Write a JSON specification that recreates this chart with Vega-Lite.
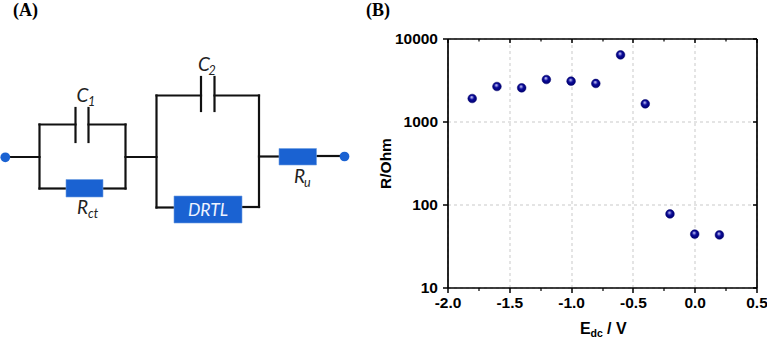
{
"$schema":"https://vega.github.io/schema/vega-lite/v6.json",
"width":309,"height":249,
"autosize":"none",
"padding":{"left":447.5,"top":38.5,"right":10.5,"bottom":50.5},
"background":"white",
"config":{"view":{"stroke":null}},
"datasets":{
"points":[{"E":-1.8,"R":1893},{"E":-1.6,"R":2640},{"E":-1.4,"R":2545},{"E":-1.2,"R":3206},{"E":-1.0,"R":3060},{"E":-0.8,"R":2872},{"E":-0.6,"R":6350},{"E":-0.4,"R":1633},{"E":-0.2,"R":77},{"E":0.0,"R":44},{"E":0.2,"R":43}],
"wires":[
{"a":5,"b":39.5,"c":157,"d":157},{"a":39.5,"b":39.5,"c":124.5,"d":188.5},{"a":39.5,"b":75.5,"c":124.5,"d":124.5},{"a":88.5,"b":125.5,"c":124.5,"d":124.5},{"a":125.5,"b":125.5,"c":124.5,"d":188.5},{"a":39.5,"b":66,"c":188.5,"d":188.5},{"a":103,"b":125.5,"c":188.5,"d":188.5},{"a":75.5,"b":75.5,"c":108,"d":142},{"a":88.5,"b":88.5,"c":108,"d":142},
{"a":125.5,"b":156.5,"c":157,"d":157},{"a":156.5,"b":156.5,"c":95.5,"d":207.5},{"a":156.5,"b":201,"c":95.5,"d":95.5},{"a":214.5,"b":259,"c":95.5,"d":95.5},{"a":201,"b":201,"c":77,"d":111},{"a":214.5,"b":214.5,"c":77,"d":111},{"a":259,"b":259,"c":95.5,"d":207},{"a":156.5,"b":174,"c":207.5,"d":207.5},{"a":242,"b":259,"c":207,"d":207},{"a":259,"b":279,"c":156.5,"d":156.5},{"a":316.5,"b":344,"c":156,"d":156}],
"boxes":[{"name":"Rct","a":66,"b":103,"c":179.5,"d":197},{"name":"DRTL","a":174,"b":242,"c":196,"d":223},{"name":"Ru","a":279,"b":316.5,"c":148.5,"d":165}],
"terminals":[{"a":5.3,"c":157.3},{"a":344.5,"c":156.5}]
},
"resolve":{"scale":{"x":"independent","y":"independent"},"axis":{"x":"independent","y":"independent"}},
"layer":[
{"data":{"name":"points"},"mark":{"type":"point","opacity":0},
 "encoding":{
 "x":{"field":"E","type":"quantitative","scale":{"domain":[-2,0.5],"nice":false,"zero":false},
  "axis":{"orient":"bottom","values":[-2,-1.5,-1,-0.5,0,0.5],"labelExpr":"replace(format(datum.value,'.1f'),'−','-')","title":null,"grid":true,"gridColor":"#c9c9c9","gridDash":[3,3],"gridWidth":1,"domainColor":"#000","domainWidth":1.7,"tickColor":"#000","tickWidth":1.5,"tickSize":5,"labelFont":"Liberation Sans","labelFontWeight":"bold","labelFontSize":15.5,"labelColor":"#000","labelPadding":3,"labelOverlap":false,"labelFlush":false}},
 "y":{"field":"R","type":"quantitative","scale":{"type":"log","domain":[10,10000],"nice":false,"zero":false},
  "axis":{"orient":"left","values":[10,100,1000,10000],"format":"d","title":"R/Ohm","titleFont":"Liberation Sans","titleFontWeight":"bold","titleFontSize":15.5,"titleColor":"#000","titlePadding":1,"grid":true,"gridColor":"#c9c9c9","gridDash":[3,3],"gridWidth":1,"domainColor":"#000","domainWidth":1.7,"tickColor":"#000","tickWidth":1.5,"tickSize":5,"labelFont":"Liberation Sans","labelFontWeight":"bold","labelFontSize":15.5,"labelColor":"#000","labelPadding":5,"labelOverlap":false}}}},
{"data":{"name":"points"},"mark":{"type":"point","opacity":0},
 "encoding":{
 "x":{"field":"E","type":"quantitative","scale":{"domain":[-2,0.5],"nice":false,"zero":false},
  "axis":{"orient":"top","values":[-2,-1.5,-1,-0.5,0,0.5],"labels":false,"title":null,"grid":false,"domainColor":"#000","domainWidth":1.7,"tickColor":"#000","tickWidth":1.5,"tickSize":-4}},
 "y":{"field":"R","type":"quantitative","scale":{"type":"log","domain":[10,10000],"nice":false,"zero":false},
  "axis":{"orient":"right","values":[10,100,1000,10000],"labels":false,"title":null,"grid":false,"domainColor":"#000","domainWidth":1.7,"tickColor":"#000","tickWidth":1.5,"tickSize":-4}}}},
{"data":{"name":"points"},"mark":{"type":"point","opacity":0},
 "encoding":{
 "x":{"field":"E","type":"quantitative","scale":{"domain":[-2,0.5],"nice":false,"zero":false},
  "axis":{"orient":"bottom","values":[-1.75,-1.25,-0.75,-0.25,0.25],"labels":false,"title":null,"grid":false,"domain":false,"tickColor":"#000","tickWidth":1.2,"tickSize":3}},
 "y":{"field":"R","type":"quantitative","scale":{"type":"log","domain":[10,10000],"nice":false,"zero":false},"axis":null}}},
{"data":{"name":"points"},"mark":{"type":"point","opacity":0},
 "encoding":{
 "x":{"field":"E","type":"quantitative","scale":{"domain":[-2,0.5],"nice":false,"zero":false},
  "axis":{"orient":"top","values":[-1.75,-1.25,-0.75,-0.25,0.25],"labels":false,"title":null,"grid":false,"domain":false,"tickColor":"#000","tickWidth":1.2,"tickSize":-2.5}},
 "y":{"field":"R","type":"quantitative","scale":{"type":"log","domain":[10,10000],"nice":false,"zero":false},"axis":null}}},
{"data":{"name":"points"},
 "mark":{"type":"point","filled":true,"size":76,"opacity":1,"stroke":"#00006e","strokeWidth":0.5,
  "fill":{"gradient":"radial","x1":0.42,"y1":0.32,"r1":0,"x2":0.5,"y2":0.5,"r2":0.55,"stops":[{"offset":0,"color":"#e8e8ff"},{"offset":0.22,"color":"#7f7fd8"},{"offset":0.45,"color":"#0a0a9a"},{"offset":1,"color":"#00006a"}]}},
 "encoding":{
 "x":{"field":"E","type":"quantitative","scale":{"domain":[-2,0.5],"nice":false,"zero":false},"axis":null},
 "y":{"field":"R","type":"quantitative","scale":{"type":"log","domain":[10,10000],"nice":false,"zero":false},"axis":null}}},
{"data":{"name":"wires"},"mark":{"type":"rule","color":"#111111","strokeWidth":2.2,"strokeCap":"square"},
 "encoding":{
 "x":{"field":"a","type":"quantitative","scale":{"domain":[447.5,756.5],"nice":false,"zero":false},"axis":null},
 "x2":{"field":"b"},
 "y":{"field":"c","type":"quantitative","scale":{"domain":[287.5,38.5],"nice":false,"zero":false},"axis":null},
 "y2":{"field":"d"}}},
{"data":{"name":"boxes"},"mark":{"type":"rect","fill":"#1a62d2","stroke":"#6f9fe0","strokeWidth":0.6},
 "encoding":{
 "x":{"field":"a","type":"quantitative","scale":{"domain":[447.5,756.5],"nice":false,"zero":false},"axis":null},
 "x2":{"field":"b"},
 "y":{"field":"c","type":"quantitative","scale":{"domain":[287.5,38.5],"nice":false,"zero":false},"axis":null},
 "y2":{"field":"d"}}},
{"data":{"name":"terminals"},"mark":{"type":"point","filled":true,"size":95,"color":"#1a62d2","opacity":1},
 "encoding":{
 "x":{"field":"a","type":"quantitative","scale":{"domain":[447.5,756.5],"nice":false,"zero":false},"axis":null},
 "y":{"field":"c","type":"quantitative","scale":{"domain":[287.5,38.5],"nice":false,"zero":false},"axis":null}}},
{"data":{"values":[{"t":"C","a":76.5,"c":102},{"t":"C","a":198,"c":71},{"t":"R","a":77,"c":214},{"t":"R","a":294,"c":183}]},
 "mark":{"type":"text","font":"Lato","fontStyle":"italic","fontSize":19,"align":"left","baseline":"alphabetic","color":"#222222"},
 "encoding":{"text":{"field":"t"},
 "x":{"field":"a","type":"quantitative","scale":{"domain":[447.5,756.5],"nice":false,"zero":false},"axis":null},
 "y":{"field":"c","type":"quantitative","scale":{"domain":[287.5,38.5],"nice":false,"zero":false},"axis":null}}},
{"data":{"values":[{"t":"1","a":88,"c":106},{"t":"2","a":208.5,"c":75},{"t":"ct","a":88,"c":217.5},{"t":"u","a":304,"c":187}]},
 "mark":{"type":"text","font":"Lato","fontStyle":"italic","fontSize":12.5,"align":"left","baseline":"alphabetic","color":"#222222"},
 "encoding":{"text":{"field":"t"},
 "x":{"field":"a","type":"quantitative","scale":{"domain":[447.5,756.5],"nice":false,"zero":false},"axis":null},
 "y":{"field":"c","type":"quantitative","scale":{"domain":[287.5,38.5],"nice":false,"zero":false},"axis":null}}},
{"data":{"values":[{"t":"DRTL","a":208,"c":216}]},
 "mark":{"type":"text","font":"Lato","fontStyle":"italic","fontSize":17.5,"align":"center","baseline":"alphabetic","color":"#eef3ff"},
 "encoding":{"text":{"field":"t"},
 "x":{"field":"a","type":"quantitative","scale":{"domain":[447.5,756.5],"nice":false,"zero":false},"axis":null},
 "y":{"field":"c","type":"quantitative","scale":{"domain":[287.5,38.5],"nice":false,"zero":false},"axis":null}}},
{"data":{"values":[{"t":"(A)","a":13,"c":16},{"t":"(B)","a":366,"c":16}]},
 "mark":{"type":"text","font":"Liberation Serif","fontWeight":"bold","fontSize":18,"align":"left","baseline":"alphabetic","color":"#000000"},
 "encoding":{"text":{"field":"t"},
 "x":{"field":"a","type":"quantitative","scale":{"domain":[447.5,756.5],"nice":false,"zero":false},"axis":null},
 "y":{"field":"c","type":"quantitative","scale":{"domain":[287.5,38.5],"nice":false,"zero":false},"axis":null}}},
{"data":{"values":[{"t":"E","a":580,"c":334},{"t":"/ V","a":607,"c":334}]},
 "mark":{"type":"text","font":"Liberation Sans","fontWeight":"bold","fontSize":16,"align":"left","baseline":"alphabetic","color":"#000000"},
 "encoding":{"text":{"field":"t"},
 "x":{"field":"a","type":"quantitative","scale":{"domain":[447.5,756.5],"nice":false,"zero":false},"axis":null},
 "y":{"field":"c","type":"quantitative","scale":{"domain":[287.5,38.5],"nice":false,"zero":false},"axis":null}}},
{"data":{"values":[{"t":"dc","a":590.5,"c":337}]},
 "mark":{"type":"text","font":"Liberation Sans","fontWeight":"bold","fontSize":10.5,"align":"left","baseline":"alphabetic","color":"#000000"},
 "encoding":{"text":{"field":"t"},
 "x":{"field":"a","type":"quantitative","scale":{"domain":[447.5,756.5],"nice":false,"zero":false},"axis":null},
 "y":{"field":"c","type":"quantitative","scale":{"domain":[287.5,38.5],"nice":false,"zero":false},"axis":null}}}
]
}
